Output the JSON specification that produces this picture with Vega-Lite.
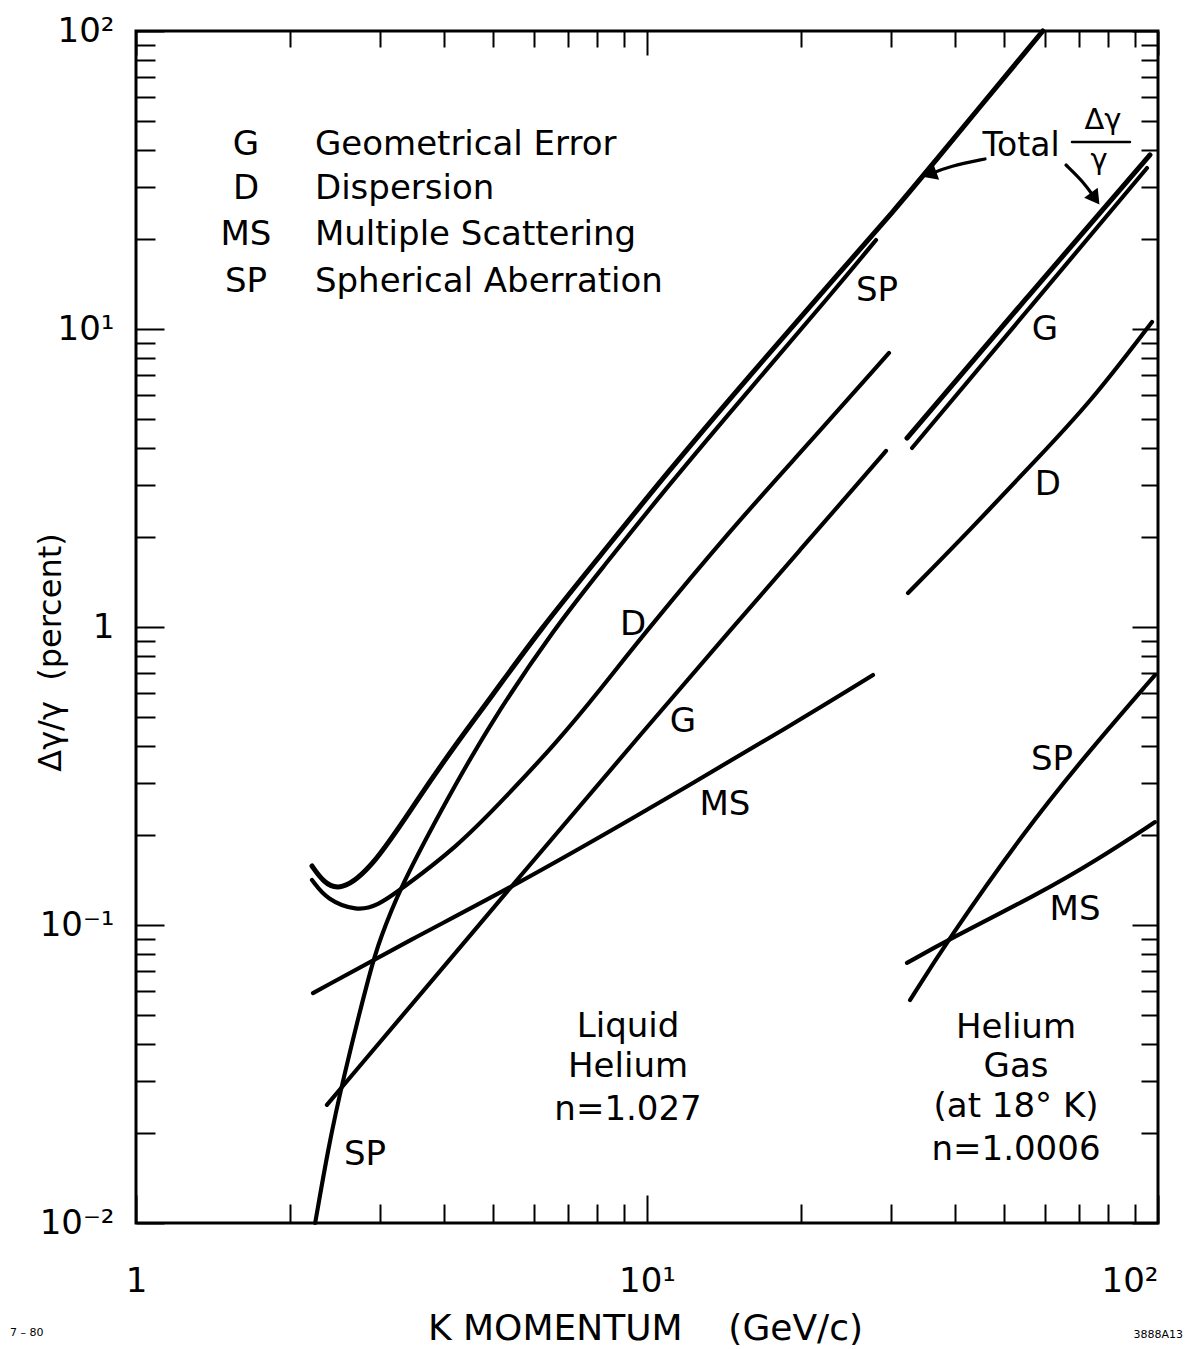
{
  "$schema": "https://vega.github.io/schema/vega-lite/v6.json",
  "width": 1022,
  "height": 1192,
  "autosize": {"type": "none"},
  "padding": {"left": 136, "top": 31, "right": 35, "bottom": 126},
  "background": "white",
  "config": {
    "view": {"stroke": "black", "strokeWidth": 3},
    "font": "DejaVu Sans",
    "text": {"font": "DejaVu Sans", "color": "black"},
    "axis": {"domain": false, "grid": false, "tickColor": "black", "tickWidth": 2, "labelColor": "black", "titleColor": "black", "labelFont": "DejaVu Sans", "titleFont": "DejaVu Sans", "titleFontWeight": "normal", "labelOverlap": false, "labelBound": false, "labelFlush": false}
  },
  "datasets": {
    "curves": [
      {"curve": "liq_total", "kind": "total", "k": 2.21, "dg": 0.1578},
      {"curve": "liq_total", "kind": "total", "k": 2.323, "dg": 0.1397},
      {"curve": "liq_total", "kind": "total", "k": 2.507, "dg": 0.129},
      {"curve": "liq_total", "kind": "total", "k": 2.91, "dg": 0.1565},
      {"curve": "liq_total", "kind": "total", "k": 3.548, "dg": 0.2627},
      {"curve": "liq_total", "kind": "total", "k": 4.249, "dg": 0.41},
      {"curve": "liq_total", "kind": "total", "k": 4.93, "dg": 0.575},
      {"curve": "liq_total", "kind": "total", "k": 6.175, "dg": 0.98},
      {"curve": "liq_total", "kind": "total", "k": 8.091, "dg": 1.73},
      {"curve": "liq_total", "kind": "total", "k": 10.94, "dg": 3.29},
      {"curve": "liq_total", "kind": "total", "k": 15.91, "dg": 7.0},
      {"curve": "liq_total", "kind": "total", "k": 23.12, "dg": 14.6},
      {"curve": "liq_total", "kind": "total", "k": 31.26, "dg": 26.3},
      {"curve": "liq_total", "kind": "total", "k": 34.53, "dg": 32.37},
      {"curve": "liq_total", "kind": "total", "k": 59.5, "dg": 100},

      {"curve": "liq_SP", "kind": "component", "k": 2.242, "dg": 0.01},
      {"curve": "liq_SP", "kind": "component", "k": 2.374, "dg": 0.01758},
      {"curve": "liq_SP", "kind": "component", "k": 2.53, "dg": 0.0295},
      {"curve": "liq_SP", "kind": "component", "k": 2.897, "dg": 0.0746},
      {"curve": "liq_SP", "kind": "component", "k": 3.003, "dg": 0.0891},
      {"curve": "liq_SP", "kind": "component", "k": 3.257, "dg": 0.129},
      {"curve": "liq_SP", "kind": "component", "k": 3.935, "dg": 0.2394},
      {"curve": "liq_SP", "kind": "component", "k": 4.93, "dg": 0.476},
      {"curve": "liq_SP", "kind": "component", "k": 6.667, "dg": 1.016},
      {"curve": "liq_SP", "kind": "component", "k": 8.091, "dg": 1.541},
      {"curve": "liq_SP", "kind": "component", "k": 10.94, "dg": 2.95},
      {"curve": "liq_SP", "kind": "component", "k": 15.91, "dg": 6.3},
      {"curve": "liq_SP", "kind": "component", "k": 23.12, "dg": 13.3},
      {"curve": "liq_SP", "kind": "component", "k": 28.07, "dg": 19.89},

      {"curve": "liq_D", "kind": "component", "k": 2.21, "dg": 0.1416},
      {"curve": "liq_D", "kind": "component", "k": 2.364, "dg": 0.1213},
      {"curve": "liq_D", "kind": "component", "k": 2.707, "dg": 0.1114},
      {"curve": "liq_D", "kind": "component", "k": 2.962, "dg": 0.1158},
      {"curve": "liq_D", "kind": "component", "k": 3.287, "dg": 0.131},
      {"curve": "liq_D", "kind": "component", "k": 4.249, "dg": 0.1827},
      {"curve": "liq_D", "kind": "component", "k": 5.226, "dg": 0.2627},
      {"curve": "liq_D", "kind": "component", "k": 6.667, "dg": 0.411},
      {"curve": "liq_D", "kind": "component", "k": 8.091, "dg": 0.615},
      {"curve": "liq_D", "kind": "component", "k": 9.822, "dg": 0.94},
      {"curve": "liq_D", "kind": "component", "k": 14.74, "dg": 2.166},
      {"curve": "liq_D", "kind": "component", "k": 19.93, "dg": 3.836},
      {"curve": "liq_D", "kind": "component", "k": 29.76, "dg": 8.309},

      {"curve": "liq_G", "kind": "component", "k": 2.364, "dg": 0.0249},
      {"curve": "liq_G", "kind": "component", "k": 5.395, "dg": 0.1331},
      {"curve": "liq_G", "kind": "component", "k": 10.27, "dg": 0.4875},
      {"curve": "liq_G", "kind": "component", "k": 14.74, "dg": 1.0},
      {"curve": "liq_G", "kind": "component", "k": 19.93, "dg": 1.813},
      {"curve": "liq_G", "kind": "component", "k": 26.95, "dg": 3.287},
      {"curve": "liq_G", "kind": "component", "k": 29.36, "dg": 3.9},

      {"curve": "liq_MS", "kind": "component", "k": 2.22, "dg": 0.0591},
      {"curve": "liq_MS", "kind": "component", "k": 3.438, "dg": 0.0891},
      {"curve": "liq_MS", "kind": "component", "k": 5.395, "dg": 0.1331},
      {"curve": "liq_MS", "kind": "component", "k": 9.264, "dg": 0.225},
      {"curve": "liq_MS", "kind": "component", "k": 19.93, "dg": 0.4875},
      {"curve": "liq_MS", "kind": "component", "k": 27.69, "dg": 0.69},

      {"curve": "gas_total", "kind": "total", "k": 32.27, "dg": 4.307},
      {"curve": "gas_total", "kind": "total", "k": 56.17, "dg": 13.11},
      {"curve": "gas_total", "kind": "total", "k": 96.45, "dg": 38.4},

      {"curve": "gas_G", "kind": "component", "k": 33.01, "dg": 3.988},
      {"curve": "gas_G", "kind": "component", "k": 56.17, "dg": 11.82},
      {"curve": "gas_G", "kind": "component", "k": 95.17, "dg": 34.7},

      {"curve": "gas_D", "kind": "component", "k": 32.42, "dg": 1.3},
      {"curve": "gas_D", "kind": "component", "k": 42.87, "dg": 2.116},
      {"curve": "gas_D", "kind": "component", "k": 56.94, "dg": 3.55},
      {"curve": "gas_D", "kind": "component", "k": 73.59, "dg": 5.645},
      {"curve": "gas_D", "kind": "component", "k": 97.34, "dg": 10.56},

      {"curve": "gas_SP", "kind": "component", "k": 32.71, "dg": 0.056},
      {"curve": "gas_SP", "kind": "component", "k": 38.82, "dg": 0.0891},
      {"curve": "gas_SP", "kind": "component", "k": 54.43, "dg": 0.2035},
      {"curve": "gas_SP", "kind": "component", "k": 73.59, "dg": 0.3866},
      {"curve": "gas_SP", "kind": "component", "k": 98.65, "dg": 0.69},

      {"curve": "gas_MS", "kind": "component", "k": 32.27, "dg": 0.0746},
      {"curve": "gas_MS", "kind": "component", "k": 38.82, "dg": 0.0891},
      {"curve": "gas_MS", "kind": "component", "k": 58.76, "dg": 0.128},
      {"curve": "gas_MS", "kind": "component", "k": 75.95, "dg": 0.1652},
      {"curve": "gas_MS", "kind": "component", "k": 98.65, "dg": 0.2215},

      {"curve": "arrow1", "kind": "arrow", "k": 45.86, "dg": 37.2},
      {"curve": "arrow1", "kind": "arrow", "k": 39.17, "dg": 35.24},
      {"curve": "arrow1", "kind": "arrow", "k": 35.71, "dg": 33.04},

      {"curve": "arrow2", "kind": "arrow", "k": 66.07, "dg": 35.5},
      {"curve": "arrow2", "kind": "arrow", "k": 71.42, "dg": 31.22},
      {"curve": "arrow2", "kind": "arrow", "k": 75.35, "dg": 27.39},

      {"curve": "fracbar", "kind": "bar", "k": 67.86, "dg": 42.41},
      {"curve": "fracbar", "kind": "bar", "k": 88.15, "dg": 42.41}
    ],
    "labels": [
      {"t": "SP", "k": 28.19, "dg": 13.41},
      {"t": "D", "k": 9.389, "dg": 1.016},
      {"t": "G", "k": 11.76, "dg": 0.48},
      {"t": "MS", "k": 14.21, "dg": 0.2527},
      {"t": "SP", "k": 2.806, "dg": 0.01692},
      {"t": "G", "k": 60.09, "dg": 9.922},
      {"t": "D", "k": 60.9, "dg": 2.996},
      {"t": "SP", "k": 62.04, "dg": 0.358},
      {"t": "MS", "k": 68.8, "dg": 0.1123},
      {"t": "Liquid", "k": 9.181, "dg": 0.04547},
      {"t": "Helium", "k": 9.181, "dg": 0.03338},
      {"t": "n=1.027", "k": 9.181, "dg": 0.02394},
      {"t": "Helium", "k": 52.74, "dg": 0.04512},
      {"t": "Gas", "k": 52.74, "dg": 0.03338},
      {"t": "(at 18° K)", "k": 52.74, "dg": 0.0245},
      {"t": "n=1.0006", "k": 52.74, "dg": 0.01758}
    ],
    "legendAbbr": [
      {"t": "G", "k": 1.6414, "dg": 41.44},
      {"t": "D", "k": 1.6414, "dg": 29.5},
      {"t": "MS", "k": 1.6414, "dg": 20.68},
      {"t": "SP", "k": 1.6414, "dg": 14.38}
    ],
    "legendDesc": [
      {"t": "Geometrical Error", "k": 2.2398, "dg": 41.44},
      {"t": "Dispersion", "k": 2.2398, "dg": 29.5},
      {"t": "Multiple Scattering", "k": 2.2398, "dg": 20.68},
      {"t": "Spherical Aberration", "k": 2.2398, "dg": 14.38}
    ],
    "totalWord": [
      {"t": "Total", "k": 53.94, "dg": 41.13}
    ],
    "fraction": [
      {"t": "Δγ", "k": 78.05, "dg": 50.27},
      {"t": "γ", "k": 76.64, "dg": 37.0}
    ],
    "head1": [{"k": 35.71, "dg": 33.04}],
    "head2": [{"k": 75.35, "dg": 27.39}],
    "noteLeft": [{"t": "7 – 80", "k": 0.567, "dg": 0.00427}],
    "noteRight": [{"t": "3888A13", "k": 111.9, "dg": 0.00421}]
  },
  "resolve": {"axis": {"x": "independent", "y": "independent"}},
  "layer": [
    {
      "data": {"name": "curves"},
      "mark": {"type": "line", "interpolate": "basis", "color": "black", "strokeCap": "round", "strokeJoin": "round"},
      "encoding": {
        "x": {
          "field": "k", "type": "quantitative",
          "scale": {"type": "log", "domain": [1, 100], "nice": false},
          "axis": {
            "orient": "bottom",
            "values": [1, 2, 3, 4, 5, 6, 7, 8, 9, 10, 20, 30, 40, 50, 60, 70, 80, 90, 100],
            "labelExpr": "datum.value==1?'1':datum.value==10?'10¹':datum.value==100?'10²':''",
            "labelFontSize": 34,
            "labelAlign": {"condition": {"test": "datum.value==100", "value": "right"}, "value": "center"},
            "labelBaseline": "middle",
            "labelPadding": 86,
            "tickSize": {"condition": {"test": "datum.value==1||datum.value==10||datum.value==100", "value": -28}, "value": -19},
            "title": "K MOMENTUM\u00a0\u00a0\u00a0\u00a0(GeV/c)",
            "titleFontSize": 36,
            "titleX": 509,
            "titleY": 105,
            "titleAlign": "center",
            "titleBaseline": "middle"
          }
        },
        "y": {
          "field": "dg", "type": "quantitative",
          "scale": {"type": "log", "domain": [0.01, 100], "nice": false},
          "axis": {
            "orient": "left",
            "values": [0.01, 0.02, 0.03, 0.04, 0.05, 0.06, 0.07, 0.08, 0.09, 0.1, 0.2, 0.3, 0.4, 0.5, 0.6, 0.7, 0.8, 0.9, 1, 2, 3, 4, 5, 6, 7, 8, 9, 10, 20, 30, 40, 50, 60, 70, 80, 90, 100],
            "labelExpr": "datum.value==100?'10²':datum.value==10?'10¹':datum.value==1?'1':datum.value==0.1?'10⁻¹':datum.value==0.01?'10⁻²':''",
            "labelFontSize": 34,
            "labelAlign": "right",
            "labelBaseline": "middle",
            "labelPadding": 50,
            "tickSize": {"condition": {"test": "datum.value==0.01||datum.value==0.1||datum.value==1||datum.value==10||datum.value==100", "value": -28}, "value": -19},
            "title": "Δγ/γ\u00a0\u00a0(percent)",
            "titleFontSize": 32,
            "titleX": -86,
            "titleY": 621,
            "titleAngle": 270,
            "titleAlign": "center",
            "titleBaseline": "middle"
          }
        },
        "detail": {"field": "curve"},
        "strokeWidth": {"field": "kind", "type": "nominal", "scale": {"domain": ["total", "component", "arrow", "bar"], "range": [5, 2.4, 4, 2]}, "legend": null}
      }
    },
    {
      "data": {"name": "labels"},
      "mark": {"type": "text", "fontSize": 34, "align": "center", "baseline": "middle", "color": "black"},
      "encoding": {
        "x": {
          "field": "k", "type": "quantitative",
          "scale": {"type": "log", "domain": [1, 100], "nice": false},
          "axis": {
            "orient": "top",
            "values": [1, 2, 3, 4, 5, 6, 7, 8, 9, 10, 20, 30, 40, 50, 60, 70, 80, 90, 100],
            "labels": false,
            "tickSize": {"condition": {"test": "datum.value==1||datum.value==10||datum.value==100", "value": -24}, "value": -16},
            "title": null
          }
        },
        "y": {
          "field": "dg", "type": "quantitative",
          "scale": {"type": "log", "domain": [0.01, 100], "nice": false},
          "axis": {
            "orient": "right",
            "values": [0.01, 0.02, 0.03, 0.04, 0.05, 0.06, 0.07, 0.08, 0.09, 0.1, 0.2, 0.3, 0.4, 0.5, 0.6, 0.7, 0.8, 0.9, 1, 2, 3, 4, 5, 6, 7, 8, 9, 10, 20, 30, 40, 50, 60, 70, 80, 90, 100],
            "labels": false,
            "tickSize": {"condition": {"test": "datum.value==0.01||datum.value==0.1||datum.value==1||datum.value==10||datum.value==100", "value": -26}, "value": -17},
            "title": null
          }
        },
        "text": {"field": "t"}
      }
    },
    {
      "data": {"name": "legendAbbr"},
      "mark": {"type": "text", "fontSize": 34, "align": "center", "baseline": "middle", "color": "black"},
      "encoding": {
        "x": {"field": "k", "type": "quantitative", "scale": {"type": "log", "domain": [1, 100], "nice": false}, "axis": null},
        "y": {"field": "dg", "type": "quantitative", "scale": {"type": "log", "domain": [0.01, 100], "nice": false}, "axis": null},
        "text": {"field": "t"}
      }
    },
    {
      "data": {"name": "legendDesc"},
      "mark": {"type": "text", "fontSize": 34, "align": "left", "baseline": "middle", "color": "black"},
      "encoding": {
        "x": {"field": "k", "type": "quantitative", "scale": {"type": "log", "domain": [1, 100], "nice": false}, "axis": null},
        "y": {"field": "dg", "type": "quantitative", "scale": {"type": "log", "domain": [0.01, 100], "nice": false}, "axis": null},
        "text": {"field": "t"}
      }
    },
    {
      "data": {"name": "totalWord"},
      "mark": {"type": "text", "fontSize": 33, "align": "center", "baseline": "middle", "color": "black"},
      "encoding": {
        "x": {"field": "k", "type": "quantitative", "scale": {"type": "log", "domain": [1, 100], "nice": false}, "axis": null},
        "y": {"field": "dg", "type": "quantitative", "scale": {"type": "log", "domain": [0.01, 100], "nice": false}, "axis": null},
        "text": {"field": "t"}
      }
    },
    {
      "data": {"name": "fraction"},
      "mark": {"type": "text", "fontSize": 29, "align": "center", "baseline": "middle", "color": "black"},
      "encoding": {
        "x": {"field": "k", "type": "quantitative", "scale": {"type": "log", "domain": [1, 100], "nice": false}, "axis": null},
        "y": {"field": "dg", "type": "quantitative", "scale": {"type": "log", "domain": [0.01, 100], "nice": false}, "axis": null},
        "text": {"field": "t"}
      }
    },
    {
      "data": {"name": "head1"},
      "mark": {"type": "point", "shape": "triangle-left", "filled": true, "color": "black", "size": 280, "angle": -20, "opacity": 1},
      "encoding": {
        "x": {"field": "k", "type": "quantitative", "scale": {"type": "log", "domain": [1, 100], "nice": false}, "axis": null},
        "y": {"field": "dg", "type": "quantitative", "scale": {"type": "log", "domain": [0.01, 100], "nice": false}, "axis": null}
      }
    },
    {
      "data": {"name": "head2"},
      "mark": {"type": "point", "shape": "triangle-right", "filled": true, "color": "black", "size": 280, "angle": 54, "opacity": 1},
      "encoding": {
        "x": {"field": "k", "type": "quantitative", "scale": {"type": "log", "domain": [1, 100], "nice": false}, "axis": null},
        "y": {"field": "dg", "type": "quantitative", "scale": {"type": "log", "domain": [0.01, 100], "nice": false}, "axis": null}
      }
    },
    {
      "data": {"name": "noteLeft"},
      "mark": {"type": "text", "fontSize": 11, "align": "left", "baseline": "middle", "color": "black"},
      "encoding": {
        "x": {"field": "k", "type": "quantitative", "scale": {"type": "log", "domain": [1, 100], "nice": false}, "axis": null},
        "y": {"field": "dg", "type": "quantitative", "scale": {"type": "log", "domain": [0.01, 100], "nice": false}, "axis": null},
        "text": {"field": "t"}
      }
    },
    {
      "data": {"name": "noteRight"},
      "mark": {"type": "text", "fontSize": 11, "align": "right", "baseline": "middle", "color": "black"},
      "encoding": {
        "x": {"field": "k", "type": "quantitative", "scale": {"type": "log", "domain": [1, 100], "nice": false}, "axis": null},
        "y": {"field": "dg", "type": "quantitative", "scale": {"type": "log", "domain": [0.01, 100], "nice": false}, "axis": null},
        "text": {"field": "t"}
      }
    }
  ]
}
